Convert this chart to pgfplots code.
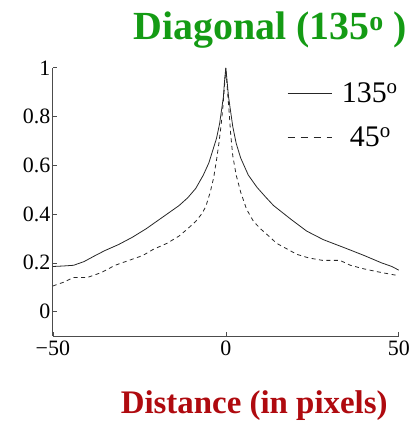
\documentclass[border=0pt]{standalone}
\usepackage{fontspec}
\setmainfont{Liberation Serif}[BoldFont={Liberation Serif Bold}]
\usepackage{pgfplots}
\pgfplotsset{compat=1.18}
\definecolor{titlegreen}{RGB}{20,155,20}
\definecolor{labelred}{RGB}{175,10,15}
\begin{document}
\begin{tikzpicture}
\begin{axis}[
    at={(0pt,0pt)}, anchor=south west,
    scale only axis,
    width=347pt, height=269pt,
    xmin=-50, xmax=50,
    ymin=-0.1, ymax=1,
    axis x line*=bottom,
    axis y line*=left,
    axis line style={-, black!70, line width=0.7pt},
    xtick={-50,0,50},
    xticklabels={−50,0,50},
    ytick={0,0.2,0.4,0.6,0.8,1},
    yticklabels={0,0.2,0.4,0.6,0.8,1},
    tick align=inside,
    major tick length=4pt,
    tick style={black!70, line width=0.6pt},
    tick label style={font=\fontsize{22}{24}\selectfont},
    yticklabel style={xshift=1pt},
    xticklabel style={yshift=-1pt},
    legend style={draw=none, fill=none, at={(0.677,0.952)}, anchor=north west,
        font=\fontsize{30}{32}\selectfont, inner sep=0pt,
        nodes={inner xsep=10pt, inner ysep=2pt},
        row sep=19pt},
    legend cell align=left,
    legend image code/.code={\draw[#1] (0pt,0pt) -- (44pt,0pt);},
]
\addplot[black!85, line width=0.8pt] coordinates {
(-50,0.185) (-47,0.187) (-44,0.19) (-41,0.205) (-38,0.228) (-35,0.25)
(-31,0.275) (-27,0.305) (-23,0.34) (-20,0.37) (-17,0.40) (-13.5,0.435)
(-11,0.467) (-8.7,0.505) (-6.5,0.56) (-4.9,0.61) (-3.8,0.66) (-2.7,0.71)
(-1.8,0.77) (-1.2,0.83) (-0.7,0.88) (-0.4,0.94) (0,1.0) (0.4,0.94)
(0.8,0.88) (1.3,0.83) (2,0.76) (3,0.69) (4.3,0.63) (6.5,0.56) (9,0.51)
(11.5,0.47) (13.8,0.435) (18.7,0.38) (23.4,0.33) (28.2,0.295) (35,0.258)
(40,0.23) (45,0.20) (48,0.185) (50,0.17)
};
\addlegendentry{135\textsuperscript{o}}
\addplot[black!85, line width=0.8pt, dash pattern=on 4pt off 3.5pt,
    legend image post style={dash pattern=on 7pt off 6pt}] coordinates {
(-50,0.105) (-47,0.12) (-44,0.14) (-40,0.14) (-36,0.16) (-32,0.19)
(-28,0.21) (-24,0.23) (-21,0.255) (-17,0.28) (-13.5,0.31) (-11,0.34)
(-8.7,0.37) (-7,0.40) (-5.8,0.43) (-4.5,0.49) (-3.5,0.55) (-2.6,0.63)
(-2,0.69) (-1.4,0.76) (-0.9,0.83) (-0.4,0.92) (0,1.0) (0.4,0.92)
(0.9,0.83) (1.4,0.73) (2,0.64) (3,0.56) (4.3,0.49) (6,0.42) (8,0.37)
(10,0.34) (12.4,0.31) (14.7,0.28) (17.3,0.26) (20.5,0.235) (24,0.22)
(28,0.21) (33,0.21) (36,0.19) (40,0.175) (44,0.163) (47,0.155) (50,0.147)
};
\addlegendentry{\hspace{8pt}45\textsuperscript{o}}
\end{axis}
\node[text=titlegreen, font=\bfseries\fontsize{40}{44}\selectfont] at (218pt,307pt) {Diagonal (135\textsuperscript{o} )};
\node[text=labelred, font=\bfseries\fontsize{33}{36}\selectfont] at (202pt,-70pt) {Distance (in pixels)};
\path[use as bounding box] (-53pt,-87pt) rectangle (364pt,337pt);
\end{tikzpicture}
\end{document}
